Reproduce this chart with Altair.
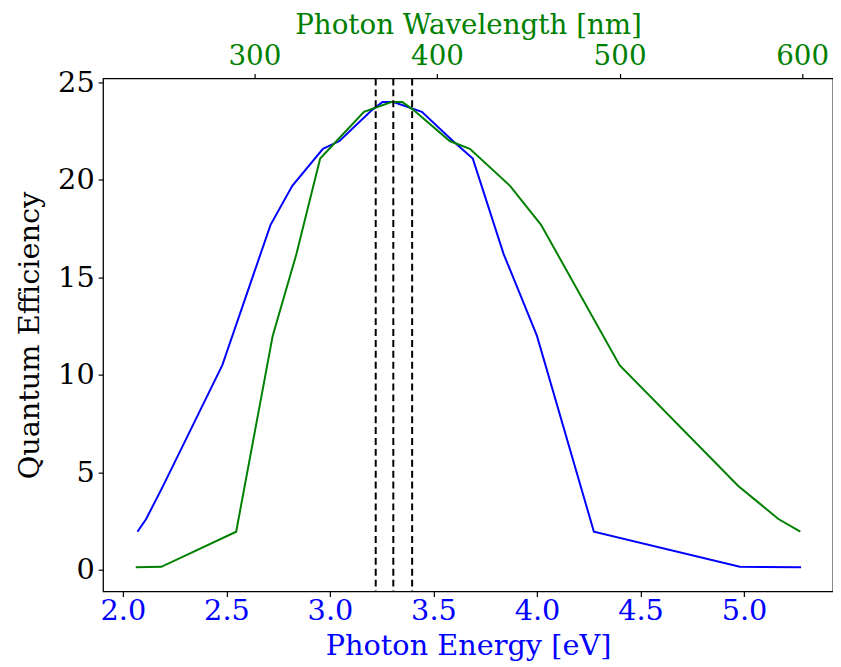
import altair as alt
import pandas as pd

# Quantum efficiency measured vs. photon wavelength / energy
wavelength_nm = [235, 249, 290, 310, 323, 336, 345, 360, 375, 381, 387, 407, 418, 440, 457, 500, 565, 587, 599]
energy_ev = [5.276, 4.980, 4.275, 4.000, 3.839, 3.690, 3.594, 3.444, 3.306, 3.254, 3.204, 3.046, 2.966, 2.818, 2.713, 2.480, 2.194, 2.112, 2.070]
quantum_eff = [0.12, 0.15, 1.95, 12.0, 16.2, 21.1, 22.0, 23.5, 24.0, 24.0, 23.6, 22.0, 21.6, 19.7, 17.7, 10.5, 4.3, 2.6, 1.95]

# dashed marker lines (energies of 385, 375, 365 nm)
marker_ev = [3.221, 3.306, 3.397]

energy_ticks = [2.0, 2.5, 3.0, 3.5, 4.0, 4.5, 5.0]
wavelength_ticks = [300, 400, 500, 600]
qe_ticks = [0, 5, 10, 15, 20, 25]

BLUE = "#0000ff"
GREEN = "#008000"
FONT = "DejaVu Serif"
FS = 29

df = pd.DataFrame({"E": energy_ev, "wl": wavelength_nm, "QE": quantum_eff})
dm = pd.DataFrame({"E": marker_ev})

e_scale = alt.Scale(domain=[1.904, 5.43], nice=False, zero=False)
w_scale = alt.Scale(domain=[217.1, 616.9], nice=False, zero=False)
y_scale = alt.Scale(domain=[-1.12, 25.21], nice=False, zero=False)

y_enc = alt.Y(
    "QE:Q",
    scale=y_scale,
    axis=alt.Axis(
        values=qe_ticks,
        title="Quantum Efficiency",
        titleColor="black",
        labelColor="black",
        titleFontWeight="normal",
        labelPadding=4,
        titleX=-59,
        titleBaseline="bottom",
    ),
)

blue = alt.Chart(df).mark_line(color=BLUE, strokeWidth=2).encode(
    x=alt.X(
        "E:Q",
        scale=e_scale,
        axis=alt.Axis(
            orient="bottom",
            values=energy_ticks,
            format=".1f",
            title="Photon Energy [eV]",
            labelColor=BLUE,
            titleColor=BLUE,
            titleFontWeight="normal",
            labelPadding=0,
            titleY=64,
            titleBaseline="alphabetic",
        ),
    ),
    y=y_enc,
)

green = alt.Chart(df).mark_line(color=GREEN, strokeWidth=2).encode(
    x=alt.X(
        "wl:Q",
        scale=w_scale,
        axis=alt.Axis(
            orient="top",
            values=wavelength_ticks,
            format="d",
            title="Photon Wavelength [nm]",
            labelColor=GREEN,
            titleColor=GREEN,
            titleFontWeight="normal",
            titleFontSize=28,
            labelFontSize=28,
            labelPadding=3,
            titleY=-45,
            titleBaseline="alphabetic",
        ),
    ),
    y=y_enc,
)

rules = alt.Chart(dm).mark_rule(color="black", strokeDash=[7, 4], strokeWidth=2).encode(
    x=alt.X("E:Q", scale=e_scale, axis=None)
)

chart = (
    alt.layer(blue, green, rules)
    .resolve_scale(x="independent")
    .properties(
        width=737,
        height=518,
        autosize=alt.AutoSizeParams(type="none"),
        padding={"left": 96, "top": 68, "right": 0, "bottom": 70},
        background="white",
    )
    .configure_view(stroke="black", strokeWidth=1.3)
    .configure_axis(
        grid=False,
        domain=False,
        tickColor="black",
        tickSize=5,
        tickWidth=1.2,
        labelFont=FONT,
        titleFont=FONT,
        labelFontSize=FS,
        titleFontSize=FS,
    )
)

chart.save("out.html", embed_options={"renderer": "svg", "actions": False})
